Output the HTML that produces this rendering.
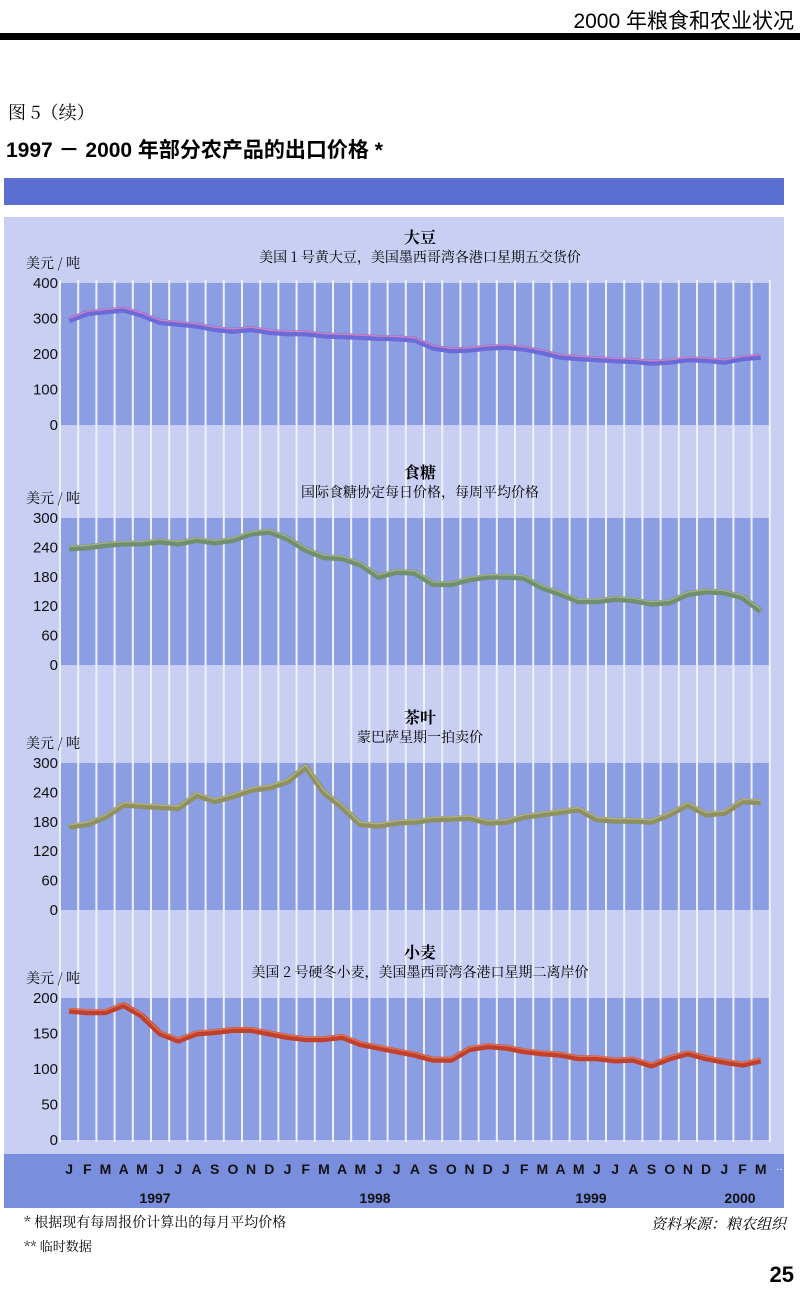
<!DOCTYPE html>
<html><head><meta charset="utf-8"><style>
body{margin:0;width:800px;height:1291px;background:#fff;position:relative;overflow:hidden;font-family:"Liberation Sans","Noto Sans CJK SC",sans-serif}
.a{position:absolute;white-space:nowrap}
</style></head><body>
<div class="a" style="right:6px;top:5px;font-size:21px;">2000 年粮食和农业状况</div>
<div class="a" style="left:0;top:33px;width:800px;height:7px;background:#000"></div>
<div class="a" style="left:8px;top:99px;font-size:18px;font-family:'Noto Serif CJK SC',serif">图 5（续）</div>
<div class="a" style="left:6px;top:134px;font-size:21px;font-weight:bold">1997 － 2000 年部分农产品的出口价格 *</div>
<svg class="a" style="left:0;top:0" width="800" height="1291" id="s"></svg>
<div class="a" style="left:24px;top:1212px;font-size:14px;font-family:'Noto Serif CJK SC',serif">* 根据现有每周报价计算出的每月平均价格</div>
<div class="a" style="left:24px;top:1236px;font-size:13px;font-family:'Noto Serif CJK SC',serif">** 临时数据</div>
<div class="a" style="right:14px;top:1213px;font-size:15px;font-style:italic;font-family:'Noto Serif CJK SC',serif">资料来源：粮农组织</div>
<div class="a" style="right:6px;top:1262px;font-size:22px;font-weight:bold">25</div>
<script>
var s='';
s+='<rect x="4" y="178" width="780" height="27" fill="#5b6fd2"/>';
s+='<rect x="4" y="217" width="780" height="937" fill="#c8cff2"/>';
s+='<rect x="4" y="1154" width="780" height="54" fill="#7a8ede"/>';
var X0=60,W=18.2,N=39;
var charts=[
{top:283,bot:425,max:400,ticks:[0,100,200,300,400],col:'#6a6ad8',edge:'#d080c0',title:'大豆',sub:'美国 1 号黄大豆，美国墨西哥湾各港口星期五交货价',
d:[295,315,320,325,310,290,285,280,270,265,270,262,258,258,252,250,248,245,244,240,218,210,212,218,220,215,205,192,188,185,182,180,175,178,185,183,178,188,192]},
{top:518,bot:665,max:300,ticks:[0,60,120,180,240,300],col:'#6f8f6f',edge:'#a0b080',title:'食糖',sub:'国际食糖协定每日价格，每周平均价格',
d:[238,240,245,248,248,252,248,255,250,255,268,272,258,235,220,218,205,180,190,188,165,165,175,180,180,178,158,145,130,130,135,132,125,128,145,150,148,138,110]},
{top:763,bot:910,max:300,ticks:[0,60,120,180,240,300],col:'#8f9060',edge:'#b0b080',title:'茶叶',sub:'蒙巴萨星期一拍卖价',
d:[170,175,190,215,212,210,208,235,222,232,245,250,262,292,240,210,175,172,178,180,185,186,188,178,180,190,195,200,205,185,182,182,180,195,215,195,198,222,220]},
{top:998,bot:1140,max:200,ticks:[0,50,100,150,200],col:'#c0402c',edge:'#e07050',title:'小麦',sub:'美国 2 号硬冬小麦，美国墨西哥湾各港口星期二离岸价',
d:[182,180,180,190,175,150,140,150,152,155,155,150,145,142,142,145,135,130,125,120,113,113,128,132,130,125,122,120,115,115,112,113,105,115,122,115,110,106,112]}
];
charts.forEach(function(c){
 s+='<rect x="'+X0+'" y="'+c.top+'" width="'+(W*N)+'" height="'+(c.bot-c.top)+'" fill="#8b9de3"/>';
});
for(var i=0;i<=N;i++){var x=X0+W*i;s+='<line x1="'+x+'" x2="'+x+'" y1="280" y2="1142" stroke="#eef0ff" stroke-width="2"/>';}
charts.forEach(function(c){
 s+='<text x="420" y="'+(c.top-40)+'" font-size="16" font-weight="bold" text-anchor="middle" font-family="Noto Serif CJK SC,serif">'+c.title+'</text>';
 s+='<text x="420" y="'+(c.top-21)+'" font-size="14" text-anchor="middle" font-family="Noto Serif CJK SC,serif">'+c.sub+'</text>';
 s+='<text x="26" y="'+(c.top-15)+'" font-size="14" font-family="Noto Serif CJK SC,serif">美元 / 吨</text>';
 c.ticks.forEach(function(t){var y=c.bot-(c.bot-c.top)*t/c.max;s+='<text x="58" y="'+(y+5)+'" font-size="15" text-anchor="end" fill="#111">'+t+'</text>';});
 var p=c.d.map(function(v,i){return (X0+W*(i+0.5)).toFixed(1)+','+(c.bot-(c.bot-c.top)*v/c.max).toFixed(1)}).join(' ');
 s+='<polyline points="'+p+'" fill="none" stroke="'+c.col+'" stroke-width="6" stroke-linejoin="round"/>';
 s+='<polyline points="'+p+'" fill="none" stroke="'+c.edge+'" stroke-width="1.5" stroke-linejoin="round" transform="translate(0,-2)"/>';
});
var m='JFMAMJJASONDJFMAMJJASONDJFMAMJJASONDJFM';
for(var i=0;i<N;i++)s+='<text x="'+(X0+W*(i+0.5))+'" y="1174" font-size="14" font-weight="bold" text-anchor="middle" fill="#111">'+m[i]+'</text>';
s+='<text x="776" y="1170" font-size="12" fill="#eee">..</text>';
[['1997',155],['1998',375],['1999',591],['2000',740]].forEach(function(y){s+='<text x="'+y[1]+'" y="1203" font-size="14" font-weight="bold" text-anchor="middle" fill="#111">'+y[0]+'</text>';});
document.getElementById('s').innerHTML=s;
</script>
</body></html>
